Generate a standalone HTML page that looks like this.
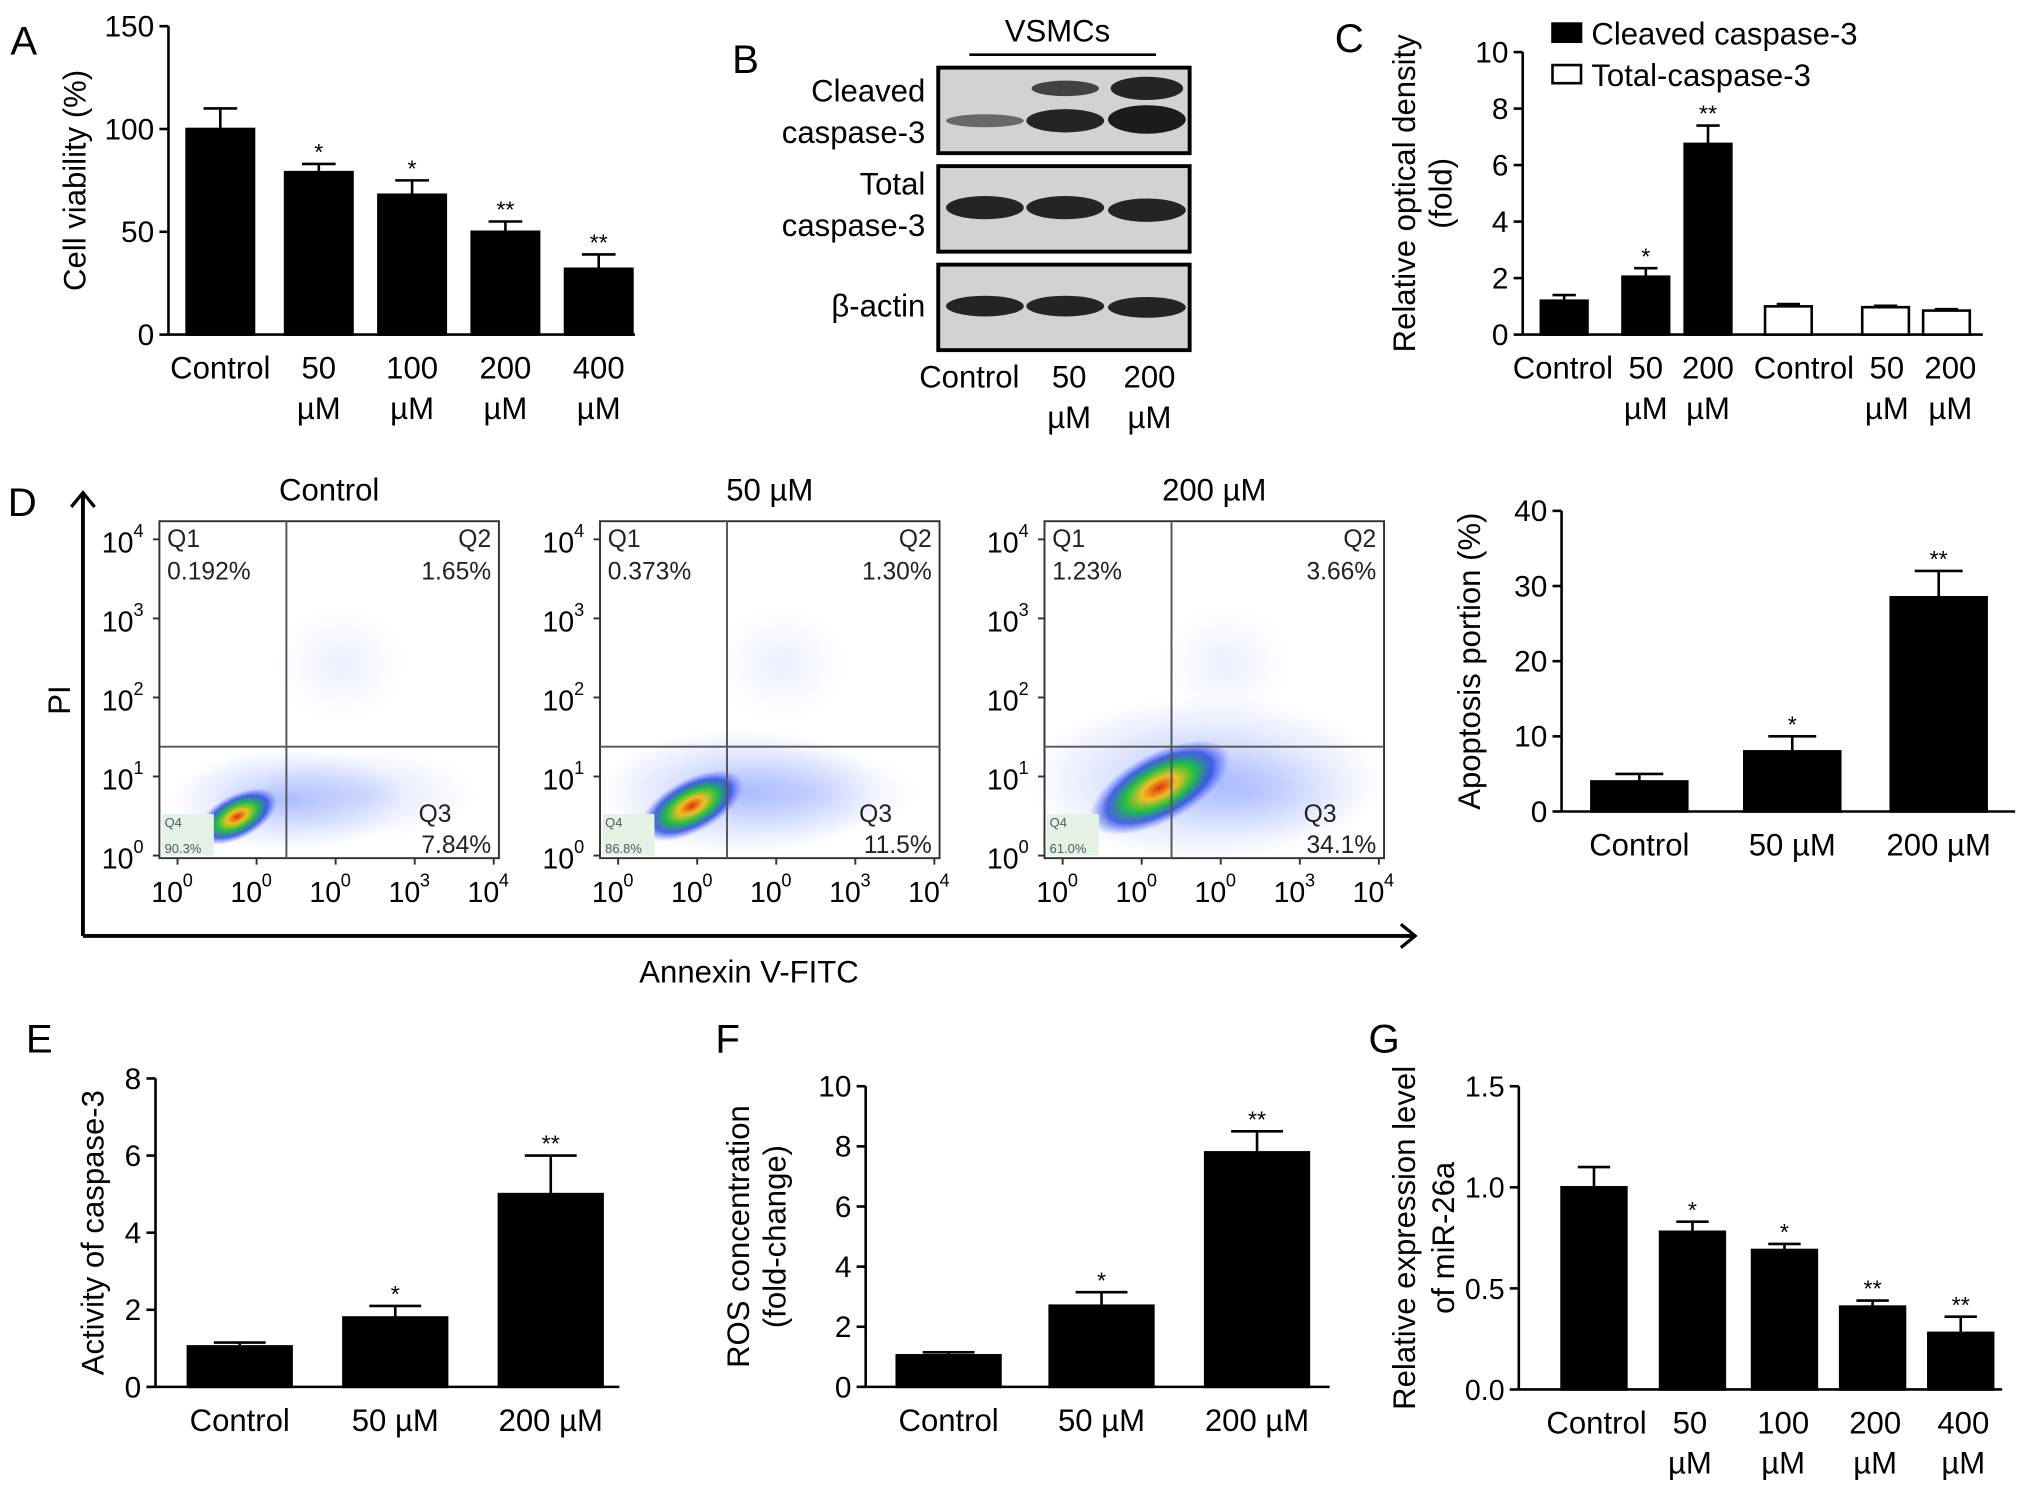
<!DOCTYPE html>
<html><head><meta charset="utf-8"><style>
html,body{margin:0;padding:0;background:#fff}
svg{display:block;font-family:"Liberation Sans",Arial,sans-serif}
</style></head><body>
<svg id="fig" width="2032" height="1496" viewBox="0 0 1568 1154" xmlns="http://www.w3.org/2000/svg">
<defs>
<radialGradient id="heat" cx="50%" cy="50%" r="50%">
<stop offset="0" stop-color="#e03010"/><stop offset="0.25" stop-color="#f0c020"/><stop offset="0.5" stop-color="#20c040"/><stop offset="0.75" stop-color="#2040e0" stop-opacity="0.8"/><stop offset="1" stop-color="#4060ff" stop-opacity="0"/>
</radialGradient>
<radialGradient id="blue" cx="50%" cy="50%" r="50%">
<stop offset="0" stop-color="#5070ff" stop-opacity="0.45"/><stop offset="1" stop-color="#7090ff" stop-opacity="0"/>
</radialGradient>
<marker id="arr" markerWidth="14" markerHeight="20" refX="12" refY="10" orient="auto" markerUnits="userSpaceOnUse"><path d="M1,1 L12,10 L1,19" fill="none" stroke="#000" stroke-width="2.5"/></marker>
</defs>
<g id="root"></g>
</svg>
<script>
// ---- data ----
const catsA=["Control","50|µM","100|µM","200|µM","400|µM"];
const valsA=[100,79,68,50,32];
const errA=[10,4,7,5,7];
const sigA=["","*","*","**","**"];
const ticksA=[0,50,100,150];

const catsC=["Control","50|µM","200|µM","Control","50|µM","200|µM"];
const valsC=[1.2,2.05,6.75,1.0,0.97,0.85];
const errC=[0.2,0.3,0.65,0.08,0.05,0.05];
const sigC=["","*","**","","",""];
const ticksC=[0,2,4,6,8,10];

const catsD=["Control","50 µM","200 µM"];
const valsD=[4,8,28.5];
const errD=[1,2,3.5];
const sigD=["","*","**"];
const ticksD=[0,10,20,30,40];

const catsE=["Control","50 µM","200 µM"];
const valsE=[1.05,1.8,5.0];
const errE=[0.1,0.3,1.0];
const sigE=["","*","**"];
const ticksE=[0,2,4,6,8];

const catsF=["Control","50 µM","200 µM"];
const valsF=[1.05,2.7,7.8];
const errF=[0.1,0.45,0.7];
const sigF=["","*","**"];
const ticksF=[0,2,4,6,8,10];

const catsG=["Control","50|µM","100|µM","200|µM","400|µM"];
const valsG=[1.0,0.78,0.69,0.41,0.28];
const errG=[0.1,0.05,0.03,0.03,0.08];
const sigG=["","*","*","**","**"];
const ticksG=["0.0","0.5","1.0","1.5"];

const flowTitles=["Control","50 µM","200 µM"];
const flowQ1=["0.192%","0.373%","1.23%"];
const flowQ2=["1.65%","1.30%","3.66%"];
const flowQ3=["7.84%","11.5%","34.1%"];
const flowQ4=["90.3%","86.8%","61.0%"];
const flowTicks=["10","10","10","10","10"];
const flowExp=["4","3","2","1","0"];
const flowXExp=["0","0","0","3","4"];

// ---- helpers ----
const NS="http://www.w3.org/2000/svg";
const root=document.getElementById('root');
function mk(tag,attrs,parent,text){const e=document.createElementNS(NS,tag);for(const k in attrs)e.setAttribute(k,attrs[k]);if(text!==undefined)e.textContent=text;(parent||root).appendChild(e);return e;}

function barChart(o){
  const g=mk('g',{});
  
  
  const tmax=parseFloat(o.ticks[o.ticks.length-1]);
  const y=v=>o.y0-(v/tmax)*(o.y0-o.y1);
  const ax=mk('line',{x1:o.ax,y1:o.y1,x2:o.ax,y2:o.y0,stroke:'#000','stroke-width':2},g);
  
  
  const xa=mk('line',{x1:o.ax,y1:o.y0,x2:o.xEnd,y2:o.y0,stroke:'#000','stroke-width':2},g);
  
  
  const tf=o.tickFont||23;
  o.ticks.forEach(t=>{
    const yy=y(parseFloat(t));
    mk('line',{x1:o.ax-7,y1:yy,x2:o.ax,y2:yy,stroke:'#000','stroke-width':2},g);
    const tl=mk('text',{x:o.ax-11,y:yy+8,'text-anchor':'end','font-size':tf},g,t);
    
    
  });
  o.vals.forEach((v,i)=>{
    const cx=o.xs[i],w=o.bw;
    const white=o.white&&o.white[i];
    const r=mk('rect',{x:cx-w/2,y:y(v),width:w,height:o.y0-y(v),fill:white?'#fff':'#000',stroke:'#000','stroke-width':2},g);
    
    
    const ey=y(v+o.err[i]);
    mk('line',{x1:cx,y1:y(v),x2:cx,y2:ey,stroke:'#000','stroke-width':2},g);
    mk('line',{x1:cx-w*0.25,y1:ey,x2:cx+w*0.25,y2:ey,stroke:'#000','stroke-width':2},g);
    if(o.sig[i]){const s=mk('text',{x:cx,y:ey-3,'text-anchor':'middle','font-size':18},g,o.sig[i]);
      
      }
    const parts=o.cats[i].split('|');
    parts.forEach((p,j)=>{const t=mk('text',{x:(o.lx?o.lx[i]:cx),y:o.y0+34+j*31,'text-anchor':'middle','font-size':24},g,p);
      
      });
  });
  if(o.title){
    o.title.forEach((l,j)=>{const t=mk('text',{x:0,y:0,'text-anchor':'middle','font-size':24,transform:`translate(${o.tx+j*(o.tstep||28)},${(o.y0+o.y1)/2}) rotate(-90)`},g,l);
      
      });
  }
  return g;
}
function letter(t,x,y){const e=mk('text',{x:x,y:y,'font-size':31},root,t);
  
  }

// ---- Panel A ----
letter('A',8,42);
barChart({name:'panel-a-chart',ax:130,xEnd:490,y0:258,y1:20,ticks:ticksA,vals:valsA,err:errA,sig:sigA,cats:catsA,xs:[170,246,318,390,462],bw:52,title:['Cell viability (%)'],tx:66});

// ---- Panel B (western blot) ----
letter('B',565,56);
(function(){
  const g=mk('g',{});
  
  
  mk('text',{x:816,y:32,'text-anchor':'middle','font-size':24},g,'VSMCs');
  mk('line',{x1:748,y1:42,x2:892,y2:42,stroke:'#000','stroke-width':2},g);
  const boxes=[[52,118],[128,194],[204,270]];
  boxes.forEach((b,i)=>{
    const r=mk('rect',{x:724,y:b[0],width:194,height:b[1]-b[0],fill:'#d2d2d2',stroke:'#000','stroke-width':3},g);
    
    
  });
  const band=(cx,cy,rx,ry,op)=>mk('ellipse',{cx:cx,cy:cy,rx:rx,ry:ry,fill:'#111','fill-opacity':op},g);
  band(760,93,30,5,0.55);band(822,93,30,9,0.9);band(885,92,30,11,0.95);
  band(822,68,26,6,0.75);band(885,68,28,9,0.9);
  [[760,160],[822,160],[885,162]].forEach(p=>band(p[0],p[1],30,9,0.9));
  [[760,236],[822,236],[885,237]].forEach(p=>band(p[0],p[1],30,8,0.9));
  const lab=[['Cleaved',78],['caspase-3',110],['Total',150],['caspase-3',182],['β-actin',244]];
  lab.forEach(l=>mk('text',{x:714,y:l[1],'text-anchor':'end','font-size':24},g,l[0]));
  mk('text',{x:748,y:299,'text-anchor':'middle','font-size':24},g,'Control');
  mk('text',{x:825,y:299,'text-anchor':'middle','font-size':24},g,'50');
  mk('text',{x:825,y:330,'text-anchor':'middle','font-size':24},g,'µM');
  mk('text',{x:887,y:299,'text-anchor':'middle','font-size':24},g,'200');
  mk('text',{x:887,y:330,'text-anchor':'middle','font-size':24},g,'µM');
})();

// ---- Panel C ----
letter('C',1030,40);
barChart({name:'panel-c-chart',ax:1175,xEnd:1530,y0:258,y1:40,ticks:ticksC,vals:valsC,err:errC,sig:sigC,cats:catsC,xs:[1207,1270,1318,1380,1455,1502],lx:[1206,1270,1318,1392,1456,1505],bw:36,white:[0,0,0,1,1,1],title:['Relative optical density','(fold)'],tx:1092});
(function(){
  const g=mk('g',{});
  
  
  const e1=mk('rect',{x:1198,y:18,width:22,height:14,fill:'#000',stroke:'#000','stroke-width':2},g);
  
  
  mk('text',{x:1228,y:34,'font-size':24},g,'Cleaved caspase-3');
  const e2=mk('rect',{x:1198,y:50,width:22,height:14,fill:'#fff',stroke:'#000','stroke-width':2},g);
  
  
  mk('text',{x:1228,y:66,'font-size':24},g,'Total-caspase-3');
})();

// ---- Panel D flow cytometry ----
letter('D',6,398);
(function(){
  const g=mk('g',{});
  
  
  mk('line',{x1:64,y1:722,x2:64,y2:380,stroke:'#000','stroke-width':3,'marker-end':'url(#arr)'},g);
  mk('line',{x1:64,y1:722,x2:1092,y2:722,stroke:'#000','stroke-width':3,'marker-end':'url(#arr)'},g);
  mk('text',{x:0,y:0,'font-size':24,'text-anchor':'middle',transform:'translate(54,540) rotate(-90)'},g,'PI');
  mk('text',{x:578,y:758,'font-size':24,'text-anchor':'middle'},g,'Annexin V-FITC');
  const lefts=[123,463,806];
  const spread=[0,0.6,1.6];
  lefts.forEach((L,i)=>{
    const T=402,W=262,H=260,qx=L+98,qy=576;
    const p=mk('g',{},g);
    
    
    mk('text',{x:L+W/2,y:386,'text-anchor':'middle','font-size':24},p,flowTitles[i]);
    const s=spread[i];
    mk('ellipse',{cx:L+100+s*15,cy:T+H-45-s*10,rx:90+s*30,ry:40+s*15,fill:'url(#blue)'},p);
    mk('ellipse',{cx:L+160,cy:T+H-50,rx:85,ry:35,fill:'url(#blue)','fill-opacity':0.45},p);
    mk('ellipse',{cx:L+140,cy:T+H-150,rx:50,ry:45,fill:'url(#blue)','fill-opacity':0.25},p);
    const hx=L+60+s*18,hy=T+H-32-s*14;
    mk('ellipse',{cx:hx,cy:hy,rx:34+s*16,ry:17+s*6,fill:'url(#heat)',transform:`rotate(-28 ${hx} ${hy})`},p);
    mk('rect',{x:L+2,y:T+H-34,width:40,height:32,fill:'#e4f2e6'},p);
    mk('rect',{x:L,y:T,width:W,height:H,fill:'none',stroke:'#333','stroke-width':1.5},p);
    mk('line',{x1:qx,y1:T,x2:qx,y2:T+H,stroke:'#555','stroke-width':1.5},p);
    mk('line',{x1:L,y1:qy,x2:L+W,y2:qy,stroke:'#555','stroke-width':1.5},p);
    mk('text',{x:L+6,y:T+20,'font-size':19,fill:'#222'},p,'Q1');
    mk('text',{x:L+6,y:T+45,'font-size':19,fill:'#222'},p,flowQ1[i]);
    mk('text',{x:L+W-6,y:T+20,'font-size':19,fill:'#222','text-anchor':'end'},p,'Q2');
    mk('text',{x:L+W-6,y:T+45,'font-size':19,fill:'#222','text-anchor':'end'},p,flowQ2[i]);
    mk('text',{x:L+200,y:T+232,'font-size':19,fill:'#222'},p,'Q3');
    mk('text',{x:L+W-6,y:T+256,'font-size':19,fill:'#222','text-anchor':'end'},p,flowQ3[i]);
    mk('text',{x:L+4,y:T+236,'font-size':10,fill:'#556'},p,'Q4');
    mk('text',{x:L+4,y:T+256,'font-size':10,fill:'#556'},p,flowQ4[i]);
    flowTicks.forEach((t,k)=>{
      const yy=T+14+k*61;
      const tx=mk('text',{x:L-20,y:yy+10,'font-size':22,'text-anchor':'end'},p,t);
      
      
      mk('text',{x:L-20,y:yy-2,'font-size':14},p,flowExp[k]);
      const xx=L+6+k*61;
      mk('text',{x:xx,y:T+H+34,'font-size':22,'text-anchor':'middle'},p,t);
      mk('text',{x:xx+12,y:T+H+22,'font-size':14},p,flowXExp[k]);
      mk('line',{x1:L-5,y1:yy,x2:L,y2:yy,stroke:'#333','stroke-width':1.5},p);
      mk('line',{x1:xx+8,y1:T+H,x2:xx+8,y2:T+H+5,stroke:'#333','stroke-width':1.5},p);
    });
  });
})();
barChart({name:'panel-d-apoptosis-chart',ax:1205,xEnd:1555,y0:626,y1:394,ticks:ticksD,vals:valsD,err:errD,sig:sigD,cats:catsD,xs:[1265,1383,1496],bw:74,title:['Apoptosis portion  (%)'],tx:1142});

// ---- Panel E ----
letter('E',20,812);
barChart({name:'panel-e-chart',ax:120,xEnd:478,y0:1070,y1:832,ticks:ticksE,vals:valsE,err:errE,sig:sigE,cats:catsE,xs:[185,305,425],bw:80,title:['Activity of caspase-3'],tx:80});

// ---- Panel F ----
letter('F',552,812);
barChart({name:'panel-f-chart',ax:668,xEnd:1026,y0:1070,y1:838,ticks:ticksF,vals:valsF,err:errF,sig:sigF,cats:catsF,xs:[732,850,970],bw:80,title:['ROS concentration','(fold-change)'],tx:578});

// ---- Panel G ----
letter('G',1056,812);
barChart({name:'panel-g-chart',ax:1172,xEnd:1545,y0:1072,y1:838,ticks:ticksG,vals:valsG,err:errG,sig:sigG,cats:catsG,xs:[1230,1306,1377,1445,1513],lx:[1232,1304,1376,1447,1515],bw:50,title:['Relative expression level','of miR-26a'],tx:1092,tstep:30,tickFont:22});
</script>
</body></html>
